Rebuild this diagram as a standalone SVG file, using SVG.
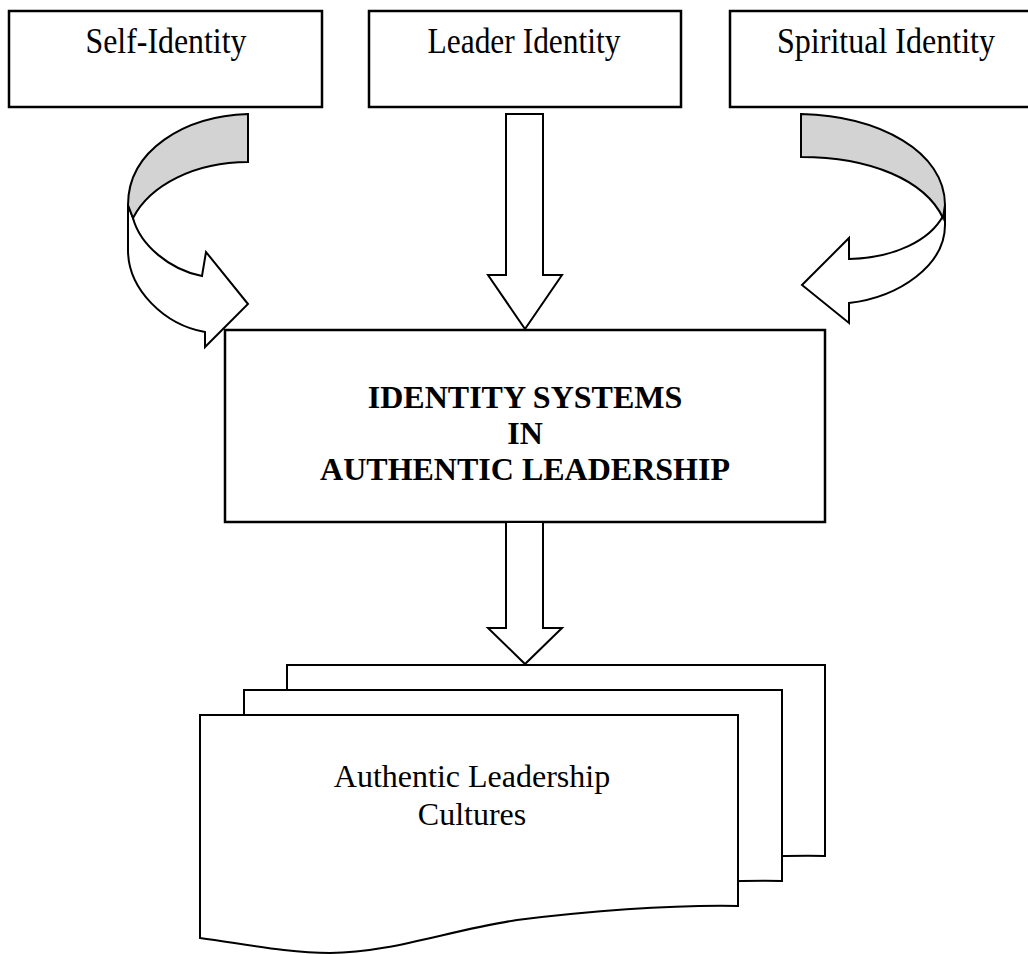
<svg xmlns="http://www.w3.org/2000/svg" width="1028" height="954" viewBox="0 0 1028 954">
  <style>
    .box { fill: #ffffff; stroke: #000000; stroke-width: 2.5; }
    .shape { fill: #ffffff; stroke: #000000; stroke-width: 2; stroke-linejoin: miter; }
    .band { fill: #d3d3d3; stroke: #000000; stroke-width: 2; }
    .label { font-family: "Liberation Serif", "Times New Roman", serif; font-size: 32px; fill: #000000; text-anchor: middle; }
    .head { font-size: 35px; }
    .title { font-weight: bold; }
  </style>
  <defs>
    <!-- document outline with wavy bottom, origin at top-left -->
    <path id="doc" d="M0,0 H538 V191 C480,190 400,195 317,205 C250,215 190,238 130,238 C90,238 50,230 0,223 Z"/>
  </defs>

  <rect width="1028" height="954" fill="#ffffff"/>

  <!-- top identity boxes -->
  <g id="self-identity">
    <rect class="box" x="9" y="11" width="313" height="96"/>
    <text class="label head" x="166" y="53" textLength="161" lengthAdjust="spacingAndGlyphs">Self-Identity</text>
  </g>
  <g id="leader-identity">
    <rect class="box" x="369" y="11" width="312" height="96"/>
    <text class="label head" x="524" y="53" textLength="193" lengthAdjust="spacingAndGlyphs">Leader Identity</text>
  </g>
  <g id="spiritual-identity">
    <rect class="box" x="730" y="11" width="312" height="96"/>
    <text class="label head" x="886" y="53" textLength="218" lengthAdjust="spacingAndGlyphs">Spiritual Identity</text>
  </g>

  <!-- connectors -->
  <g id="connectors">
    <!-- left curved arrow: back ribbon with head, then shaded front band -->
    <path class="shape" d="M133,218 C140,245 170,270 202,276 L206,252 L248,304 L205,347 L205,332 C165,325 128,290 128,250 L128,205 Z"/>
    <path class="band" d="M248,114 C185,116 128,150 128,205 L133,218 C150,185 195,162 248,162 Z"/>

    <!-- right curved arrow -->
    <path class="shape" d="M943,216 C930,240 895,258 849,259 L849,238 L802,285 L849,323 L849,303 C900,297 945,265 945,225 L945,205 Z"/>
    <path class="band" d="M801,114 C880,116 945,152 945,205 L943,218 C925,180 870,157 801,157 Z"/>

    <!-- straight block arrow into the central box -->
    <path class="shape" d="M506,114 H543 V275 H562 L525,329 L488,275 H506 Z"/>
  </g>

  <!-- central box -->
  <g id="identity-systems">
    <rect class="box" x="225" y="330" width="600" height="192"/>
    <text class="label title" x="525" y="408">IDENTITY SYSTEMS</text>
    <text class="label title" x="525" y="444">IN</text>
    <text class="label title" x="525" y="480">AUTHENTIC LEADERSHIP</text>
  </g>

  <g id="connectors-lower">
    <path class="shape" d="M506,522 H543 V628 H562 L525,664 L488,628 H506 Z"/>
  </g>

  <!-- stacked documents -->
  <g id="authentic-leadership-cultures">
    <use href="#doc" class="shape" transform="translate(287,665)"/>
    <use href="#doc" class="shape" transform="translate(244,690)"/>
    <use href="#doc" class="shape" transform="translate(200,715)"/>
    <text class="label" x="472" y="787">Authentic Leadership</text>
    <text class="label" x="472" y="825">Cultures</text>
  </g>
</svg>
